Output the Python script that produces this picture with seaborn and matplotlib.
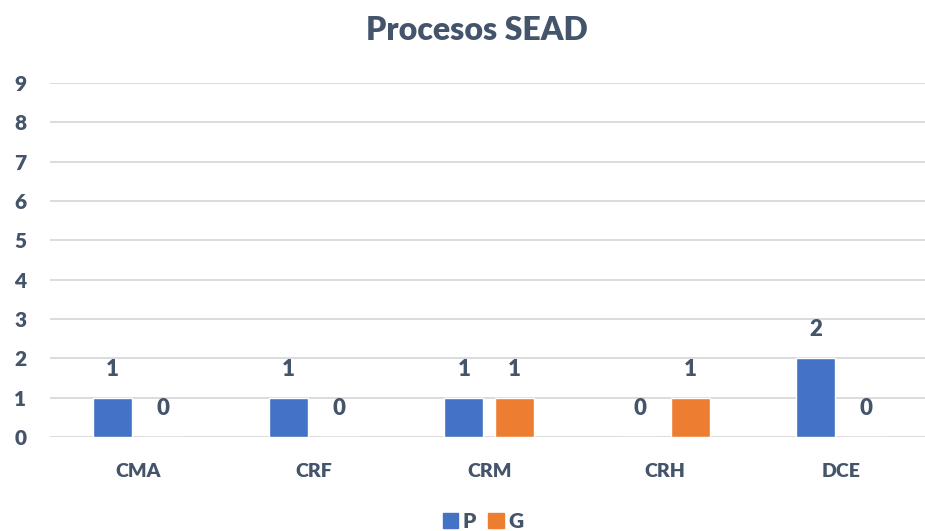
import pandas as pd
import matplotlib
matplotlib.use("Agg")
import matplotlib.pyplot as plt
import seaborn as sns

categories = ["CMA", "CRF", "CRM", "CRH", "DCE"]
series = ["P", "G"]
p_values = [1, 1, 1, 0, 2]
g_values = [0, 0, 1, 1, 0]
y_ticks = list(range(0, 10))

text_color = "#44546A"
grid_color = "#D9D9D9"
palette = {"P": "#4472C4", "G": "#ED7D31"}

df = pd.DataFrame({
    "categoria": categories * 2,
    "serie": ["P"] * len(categories) + ["G"] * len(categories),
    "valor": p_values + g_values,
})

sns.set_theme(style="white")
plt.rcParams["font.family"] = ["Lato", "DejaVu Sans"]
plt.rcParams["font.weight"] = "heavy"
w = "heavy"

fig = plt.figure(figsize=(9.25, 5.31), dpi=100)
ax = fig.add_axes([0.054, 0.177, 0.95, 0.667])

sns.barplot(data=df, x="categoria", y="valor", hue="serie", order=categories,
            hue_order=series, palette=palette, width=0.58, gap=0.234,
            saturation=1, ax=ax)

# etiquetas de datos encima de cada barra
for container in ax.containers:
    ax.bar_label(container, padding=13, fontsize=16, fontweight=w, color=text_color)

ax.set_ylim(0, 9)
ax.set_yticks(y_ticks)
ax.yaxis.grid(True, color=grid_color, linewidth=1.3)
ax.set_axisbelow(True)
for s in ax.spines.values():
    s.set_visible(False)
ax.tick_params(axis="both", length=0, colors=text_color)
ax.tick_params(axis="x", labelsize=14, pad=19)
ax.tick_params(axis="y", labelsize=15, pad=17)
for lbl in ax.get_xticklabels() + ax.get_yticklabels():
    lbl.set_fontweight(w)
ax.set_xlabel("")
ax.set_ylabel("")

fig.suptitle("Procesos SEAD", x=0.516, y=0.97, fontsize=23, fontweight=w, color=text_color)

ax.get_legend().remove()
handles = [plt.Rectangle((0, 0), 1, 1, color=palette[s]) for s in series]
fig.legend(handles, series, loc="lower center", bbox_to_anchor=(0.522, -0.035), ncol=2,
           frameon=False, handlelength=0.75, handleheight=0.75, handletextpad=0.2,
           columnspacing=0.6, prop={"size": 15, "weight": w}, labelcolor=text_color)

fig.savefig("out.png", dpi=100)
